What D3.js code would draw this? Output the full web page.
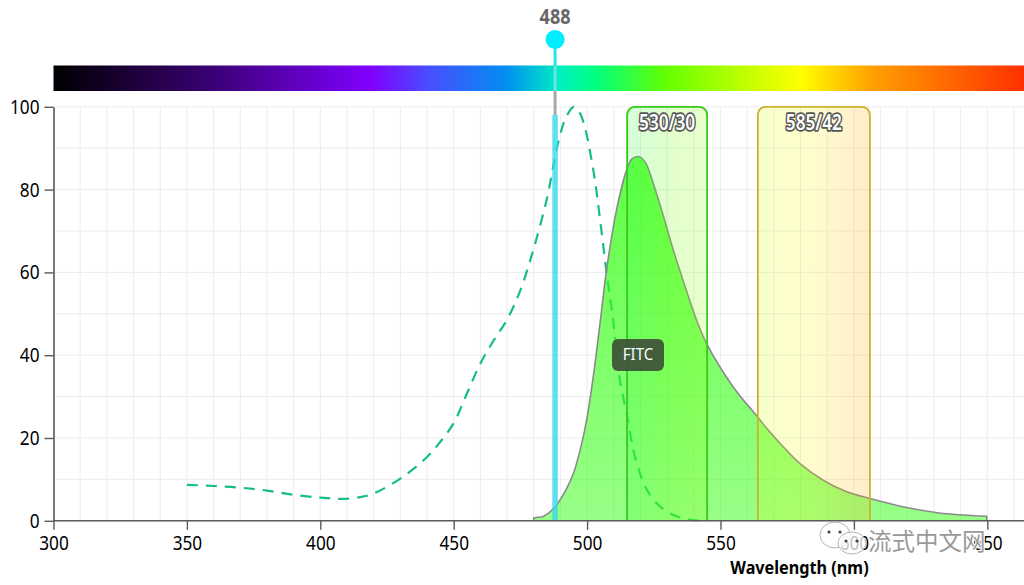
<!DOCTYPE html>
<html>
<head>
<meta charset="utf-8">
<script src="https://cdn.jsdelivr.net/npm/d3@7"></script>
<style>
html,body{margin:0;padding:0;background:#fff;overflow:hidden}
svg{display:block}
text{font-family:"Noto Sans","Open Sans",sans-serif}
</style>
</head>
<body>
<svg id="c" width="1024" height="585"></svg>
<script>
const xTicks = [300,350,400,450,500,550,600,650];
const yTicks = [0,20,40,60,80,100];
const xMinor = d3.range(300,670,10);
const yMinor = d3.range(0,101,10);
const excitationNm = [350,360,370,380,390,400,408,415,420,430,440,445,450,455,460,465,470,475,480,485,488,490,492,495,497,499,501,503,505,507.5,509.5,512.3,514.8,518.6,523.6,529.9,537.3,545];
const excitationVal = [8.7,8.4,8.0,7.3,6.3,5.6,5.3,5.7,6.6,10.2,15.4,19.1,23.6,30.8,38,43.6,48.6,55.7,65.8,78,88,93.5,97.3,100,98.8,95.5,89.5,82,72,59,49.7,34,26,13.9,6.2,2.2,0.4,0];
const emissionNm = [480,481,483.7,488,492.4,494.9,498,500,502.5,505,507.3,511,514.8,516.7,519.2,521.7,524.8,528.5,532.3,536,541,544.8,554.7,564,567.9,573.5,579.8,588.5,597.3,606,619.8,632,649.8];
const emissionVal = [0.7,0.8,1.1,3.4,7.9,11.5,18.7,25,35.7,48.5,60.6,75,84.7,87.3,88,86.7,81.5,73.8,65.4,58,48.5,42.8,32.4,25,21.9,17.9,13.8,9.8,7,5.4,3.2,1.9,1.1];
const spectrumNm = [300,355,419,440,470,490,503,530,580,607,665];
const spectrumColor = ["#000000","#35006b","#8000ff","#4a4cff","#0090f0","#00f0c0","#00ff7f","#66ff00","#ffff00","#ffa000","#ff3000"];
const bandNames = ["530/30","585/42"];
const bandFrom = [515,564];
const bandTo = [545,606];
const bandStroke = ["#36c81c","#c9b430"];
const laserNm = 488;
const laserLabel = "488";
const laserTop = 98;
const dyeName = "FITC";
const xTitle = "Wavelength (nm)";
const watermark = "流式中文网";

const svg = d3.select("#c");
const x = d3.scaleLinear().domain([300,650]).range([53.5,987.3]);
const y = d3.scaleLinear().domain([0,100]).range([520.8,106.8]);
const xEnd = 1024;
const spec = d3.scaleLinear().domain(spectrumNm).range(spectrumColor).interpolate(d3.interpolateRgb).clamp(true);
const defs = svg.append("defs");

function narrow(sel, k){
  sel.each(function(){
    const len = this.getComputedTextLength();
    d3.select(this).attr("textLength", len*k).attr("lengthAdjust","spacingAndGlyphs");
  });
  return sel;
}

// colour bar
const gb = defs.append("linearGradient").attr("id","spectrum").attr("gradientUnits","userSpaceOnUse")
  .attr("x1",x(300)).attr("x2",xEnd).attr("y1",0).attr("y2",0);
spectrumNm.forEach((n,i)=>{
  gb.append("stop").attr("offset",(x(n)-x(300))/(xEnd-x(300))).attr("stop-color",spectrumColor[i]);
});
svg.append("rect").attr("x",x(300)).attr("y",65.5).attr("width",xEnd-x(300)).attr("height",25.5).attr("fill","url(#spectrum)");

// grid
const grid = svg.append("g").attr("stroke","#ececf0").attr("stroke-width",1);
grid.selectAll("line.v").data(xMinor).join("line").attr("class","v")
  .attr("x1",d=>x(d)).attr("x2",d=>x(d)).attr("y1",y(100)).attr("y2",y(0));
grid.selectAll("line.h").data(yMinor).join("line").attr("class","h")
  .attr("x1",x(300)).attr("x2",xEnd).attr("y1",d=>y(d)).attr("y2",d=>y(d));

// excitation
const curve = d3.curveCatmullRom.alpha(0.5);
svg.append("path").attr("d",d3.line().x((d,i)=>x(excitationNm[i])).y(d=>y(d)).curve(curve)(excitationVal))
  .attr("fill","none").attr("stroke","#17bd88").attr("stroke-width",2.2).attr("stroke-dasharray","11 8");

// emission
const ge = defs.append("linearGradient").attr("id","em").attr("gradientUnits","userSpaceOnUse")
  .attr("x1",0).attr("x2",0).attr("y1",y(88)).attr("y2",y(0));
ge.append("stop").attr("offset",0).attr("stop-color","#33ff11").attr("stop-opacity",0.78);
ge.append("stop").attr("offset",1).attr("stop-color","#33ff11").attr("stop-opacity",0.5);
const emPts = emissionNm.map((n,i)=>[x(n),y(emissionVal[i])]);
const emLine = d3.line().curve(curve)(emPts);
const close = `L${x(emissionNm[emissionNm.length-1])},${y(0)}L${x(emissionNm[0])},${y(0)}Z`;
svg.append("path").attr("d",emLine+close).attr("fill","url(#em)").attr("stroke","none");
svg.append("path").attr("d",`M${x(emissionNm[0])},${y(0)}L${emPts[0]}`+emLine.replace(/^M[^C]*/,m=>"L"+m.slice(1))+`L${x(emissionNm[emissionNm.length-1])},${y(0)}`)
  .attr("fill","none").attr("stroke","#8a8a8a").attr("stroke-width",1.6);

// filter bands
bandNames.forEach((name,i)=>{
  const a=x(bandFrom[i]), b=x(bandTo[i]), t=y(100), z=y(0), r=9;
  const id="band"+i;
  const g=defs.append("linearGradient").attr("id",id).attr("gradientUnits","userSpaceOnUse")
    .attr("x1",a).attr("x2",b).attr("y1",0).attr("y2",0);
  [0,0.25,0.5,0.75,1].forEach(f=>{
    g.append("stop").attr("offset",f).attr("stop-color",spec(bandFrom[i]+f*(bandTo[i]-bandFrom[i])));
  });
  const d=`M${a},${z}L${a},${t+r}Q${a},${t} ${a+r},${t}L${b-r},${t}Q${b},${t} ${b},${t+r}L${b},${z}`;
  svg.append("path").attr("d",d+"Z").attr("fill",`url(#${id})`).attr("fill-opacity",0.2);
  svg.append("path").attr("d",d).attr("fill","none").attr("stroke",bandStroke[i]).attr("stroke-width",1.8);
  const tx=svg.append("text").attr("x",(a+b)/2).attr("y",129.5).attr("text-anchor","middle")
    .attr("font-size",21).attr("font-weight",600).attr("fill","#fff").attr("stroke","#555").attr("stroke-width",3.4)
    .attr("paint-order","stroke").attr("stroke-linejoin","round").text(name);
  narrow(tx,0.82);
});

// laser
const lx=x(laserNm);
svg.append("line").attr("x1",lx).attr("x2",lx).attr("y1",91).attr("y2",y(laserTop)).attr("stroke","#a9a9a9").attr("stroke-width",3);
svg.append("line").attr("x1",lx).attr("x2",lx).attr("y1",40).attr("y2",66).attr("stroke","#22e4f2").attr("stroke-width",3);
svg.append("line").attr("x1",lx).attr("x2",lx).attr("y1",66).attr("y2",91).attr("stroke","#66e8e0").attr("stroke-width",3);
svg.append("line").attr("x1",lx).attr("x2",lx).attr("y1",y(laserTop)).attr("y2",y(0)).attr("stroke","#35d8ee").attr("stroke-width",5.5).attr("stroke-opacity",0.8);
svg.append("circle").attr("cx",lx).attr("cy",39.5).attr("r",9.5).attr("fill","#00ecff");
narrow(svg.append("text").attr("x",lx).attr("y",24).attr("text-anchor","middle").attr("font-size",20.5).attr("font-weight",700).attr("fill","#666").text(laserLabel),0.88);

// dye label
svg.append("rect").attr("x",612).attr("y",339).attr("width",52).attr("height",32).attr("rx",6).attr("fill","#3f5539").attr("fill-opacity",0.95);
narrow(svg.append("text").attr("x",638).attr("y",359.5).attr("text-anchor","middle").attr("font-size",17).attr("fill","#fff").text(dyeName),0.88);

// axes
const ax = svg.append("g").attr("transform",`translate(0,${y(0)})`)
  .call(d3.axisBottom(x).tickValues(xTicks).tickFormat(d3.format("d")).tickSize(9).tickSizeOuter(0));
ax.select(".domain").attr("d",`M${x(300)},0H${xEnd}`);
const ay = svg.append("g").attr("transform",`translate(${x(300)},0)`)
  .call(d3.axisLeft(y).tickValues(yTicks).tickSize(9).tickSizeOuter(0));
[ax,ay].forEach(g=>{
  g.attr("font-family",null);
  g.select(".domain").attr("stroke","#5a5a5a").attr("stroke-width",1.6);
  g.selectAll(".tick line").attr("stroke","#5a5a5a").attr("stroke-width",1.4);
  g.selectAll(".tick text").attr("font-size",20.5).attr("fill","#000");
});
ax.selectAll(".tick text").attr("dy",null).attr("y",29);
ay.selectAll(".tick text").attr("dy",null).attr("x",-14).attr("y",6.5);
narrow(ax.selectAll(".tick text"),0.84);
narrow(ay.selectAll(".tick text"),0.84);

narrow(svg.append("text").attr("x",799.5).attr("y",574).attr("text-anchor","middle").attr("font-size",18).attr("font-weight",700).attr("fill","#000").text(xTitle),0.9);

// watermark
const wm = svg.append("g");
wm.append("ellipse").attr("cx",835).attr("cy",535).attr("rx",15).attr("ry",13).attr("fill","#fff").attr("fill-opacity",0.8).attr("stroke","#b5b5b5");
wm.append("ellipse").attr("cx",852).attr("cy",543).attr("rx",14).attr("ry",11).attr("fill","#fff").attr("fill-opacity",0.75).attr("stroke","#b5b5b5");
[[829,532],[840,532],[846,541],[857,541]].forEach(p=>{
  wm.append("circle").attr("cx",p[0]).attr("cy",p[1]).attr("r",1.6).attr("fill","#444");
});
svg.append("text").attr("x",868).attr("y",550).attr("font-size",23.5)
  .style("font-family",'"Noto Sans CJK SC"').attr("fill","#999").attr("stroke","#fff").attr("stroke-width",2.2)
  .attr("paint-order","stroke").text(watermark);
</script>
</body>
</html>
